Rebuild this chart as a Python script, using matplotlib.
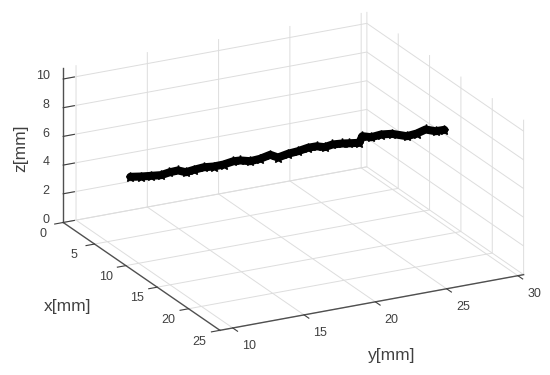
import matplotlib
matplotlib.use("Agg")
import matplotlib.pyplot as plt
from matplotlib.transforms import Affine2D
from mpl_toolkits.mplot3d import Axes3D  # noqa

plt.rcParams['font.family'] = ['Liberation Sans', 'DejaVu Sans']

x_mm = [5.03, 5.37, 5.68, 5.99, 6.24, 6.51, 6.76, 7.01, 7.32, 7.62, 7.93, 8.24,
        8.46, 8.77, 9.08, 9.39, 9.63, 9.94, 10.25, 10.56, 10.84, 11.08, 11.33, 11.64,
        11.86, 12.16, 12.26, 12.53, 12.84, 13.18, 13.65, 13.96, 14.23, 14.54, 14.82]
y_mm = [11.60, 12.22, 12.78, 13.33, 13.78, 14.29, 14.73, 15.18, 15.74, 16.30, 16.86, 17.41,
        17.81, 18.37, 18.92, 19.49, 19.93, 20.49, 21.05, 21.61, 22.11, 22.56, 23.00, 23.57,
        23.96, 24.52, 24.69, 25.19, 25.75, 26.36, 27.20, 27.76, 28.26, 28.82, 29.32]
z_mm = [4.24, 4.25, 4.29, 4.33, 4.51, 4.64, 4.51, 4.67, 4.84, 4.88, 5.01, 5.23,
        5.28, 5.22, 5.38, 5.65, 5.45, 5.70, 5.87, 6.10, 6.20, 6.13, 6.31, 6.37,
        6.38, 6.40, 6.86, 6.78, 6.96, 7.00, 6.82, 7.00, 7.27, 7.14, 7.23]
x_ticks = [0, 5, 10, 15, 20, 25]
y_ticks = [10, 15, 20, 25, 30]
z_ticks = [0, 2, 4, 6, 8, 10]

W, H = 550, 375
fig = plt.figure(figsize=(W / 100, H / 100), dpi=100)
side = 400
ax = fig.add_axes([(288 - side / 2) / W, (198.5 - side / 2) / H, side / W, side / H],
                  projection='3d', proj_type='ortho')
ax.patch.set_alpha(0)
ax.view_init(elev=20.8, azim=-27.3)
ax.set_box_aspect((1, 1, 0.485), zoom=1.24)
ax.set_xlim(0, 25)
ax.set_ylim(9.1, 30.4)
ax.set_zlim(0, 10.8)
ax.set_xticks(x_ticks)
ax.set_yticks(y_ticks)
ax.set_zticks(z_ticks)

ax.plot(x_mm, y_mm, z_mm, color='black', lw=5.8, marker='*', ms=6.5,
        solid_capstyle='round', solid_joinstyle='round')

text_c = '#404040'
tick_factors = {'x': (0.35, 0.0), 'y': (0.38, 0.0), 'z': (0.0, 0.46)}
axes_map = {'x': ax.xaxis, 'y': ax.yaxis, 'z': ax.zaxis}
for name, axis in axes_map.items():
    axis.set_pane_color((1, 1, 1, 0))
    axis.pane.set_edgecolor('none')
    axis.line.set_color('#505050')
    axis.line.set_linewidth(1.0)
    axis._axinfo['grid'].update(color='#dddddd', linewidth=0.7)
    inward, outward = tick_factors[name]
    axis._axinfo['tick'].update(inward_factor=inward, outward_factor=outward, color='#404040')
    axis._axinfo['tick']['linewidth'] = {True: 0.8, False: 0.5}
ax.tick_params(axis='both', labelsize=9, colors=text_c, pad=0)
ax.zaxis.set_ticks_position('lower')
ax.zaxis.set_label_position('lower')

ax.set_xlabel('x[mm]', fontsize=12.5, color=text_c, rotation=0, labelpad=10)
ax.set_ylabel('y[mm]', fontsize=12.5, color=text_c, rotation=0, labelpad=10)
ax.set_zlabel('z[mm]', fontsize=12.5, color=text_c, rotation=90, labelpad=10)
for axis in axes_map.values():
    axis.set_rotate_label(False)


def shift_text(text, dx, dy):
    # mplot3d resets the text transform on every draw, so offset it at lookup time
    text.get_transform = lambda: ax.transData + Affine2D().translate(dx, dy)


label_nudge = {'x': (-11, 13), 'y': (-13, 1), 'z': (53, -14)}
tick_nudge = {'x': (-4, 0), 'y': (8, -4), 'z': (11, 0)}
tick_ha = {'x': 'center', 'y': 'center', 'z': 'right'}
for name, axis in axes_map.items():
    shift_text(axis.label, *label_nudge[name])
    for t in axis.get_major_ticks():
        shift_text(t.label1, *tick_nudge[name])
        t.label1.set_va('center')
        t.label1.set_ha(tick_ha[name])

fig.savefig('out.png', dpi=100)
